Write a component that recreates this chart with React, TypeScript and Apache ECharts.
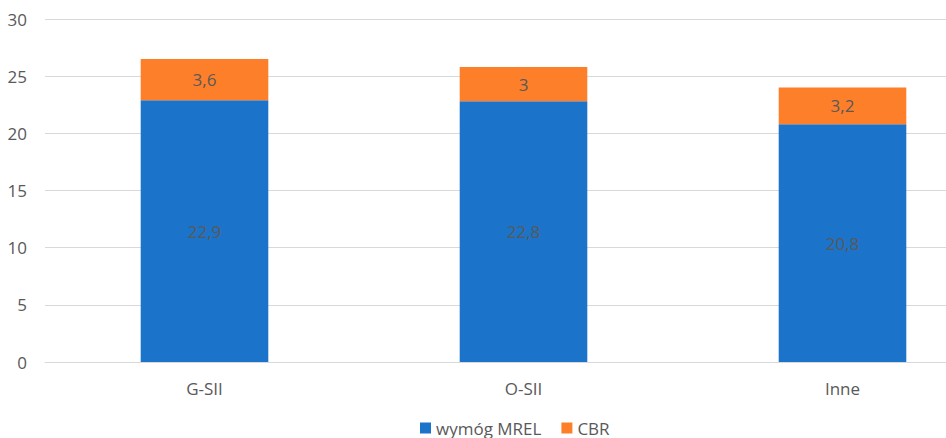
import React, { useEffect, useRef } from "react";
import * as echarts from "echarts";

const categories = ["G-SII", "O-SII", "Inne"];
const mrelValues = [22.9, 22.8, 20.8];
const cbrValues = [3.6, 3, 3.2];
const seriesNames = ["wymóg MREL", "CBR"];

const FONT = "'Open Sans', sans-serif";
const TXT = "#595959";

export default function App() {
  const ref = useRef<HTMLDivElement>(null);
  useEffect(() => {
    if (!ref.current) return;
    const chart = echarts.init(ref.current, undefined, { renderer: "svg" });
    const fmt = (p: any) => String(p.value).replace(".", ",");
    chart.setOption({
      animation: false,
      textStyle: { fontFamily: FONT },
      grid: { left: 45, right: 8, top: 19, bottom: 76 },
      legend: {
        left: 420,
        top: 418,
        padding: 0,
        itemWidth: 11,
        itemHeight: 11,
        itemGap: 20,
        icon: "rect",
        textStyle: { color: TXT, fontSize: 17, fontFamily: FONT, lineHeight: 20 },
        data: seriesNames,
      },
      xAxis: {
        type: "category",
        data: categories,
        axisLine: { lineStyle: { color: "#d9d9d9" } },
        axisTick: { show: false },
        axisLabel: { color: TXT, fontSize: 17, margin: 18, fontFamily: FONT },
      },
      yAxis: {
        type: "value",
        min: 0,
        max: 30,
        interval: 5,
        axisLine: { show: false },
        axisTick: { show: false },
        splitLine: { lineStyle: { color: "#d9d9d9" } },
        axisLabel: { color: TXT, fontSize: 17, margin: 18, fontFamily: FONT },
      },
      series: [
        {
          name: seriesNames[0],
          type: "bar",
          stack: "a",
          data: mrelValues,
          barWidth: "40%",
          itemStyle: { color: "#1B74C9" },
          label: { show: true, position: "inside", color: TXT, fontSize: 17, fontFamily: FONT, formatter: fmt },
        },
        {
          name: seriesNames[1],
          type: "bar",
          stack: "a",
          data: cbrValues,
          barWidth: "40%",
          itemStyle: { color: "#FE7F2A" },
          label: { show: true, position: "inside", color: TXT, fontSize: 17, fontFamily: FONT, formatter: fmt },
        },
      ],
    });
    return () => chart.dispose();
  }, []);
  return (
    <div style={{ position: "fixed", left: 0, top: 0, width: 946, height: 438, overflow: "hidden", background: "#fff" }}>
      <div ref={ref} style={{ width: 1010, height: 438 }} />
    </div>
  );
}
